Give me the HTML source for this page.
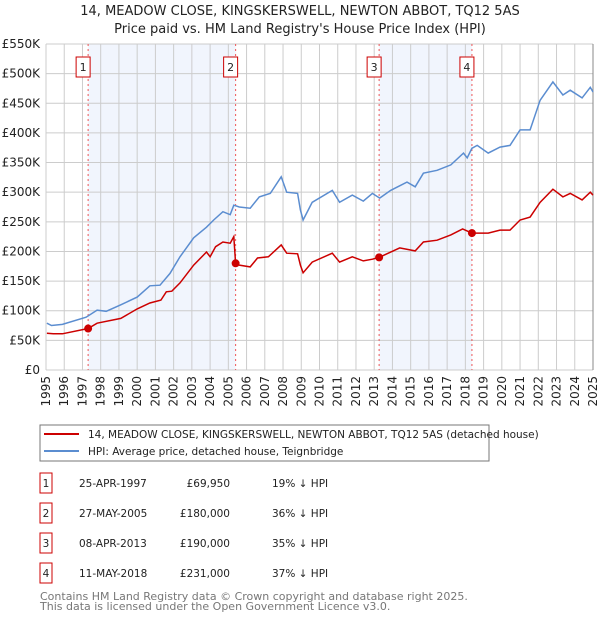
<!DOCTYPE html>
<html><head><meta charset="utf-8"><style>
body{margin:0;background:#fff;font-family:"Liberation Sans","DejaVu Sans",sans-serif;}
svg text{font-family:"DejaVu Sans","Liberation Sans",sans-serif;}
</style></head><body>
<svg id="c" width="600" height="620" viewBox="0 0 600 620" xmlns="http://www.w3.org/2000/svg">
<text x="300" y="15" text-anchor="middle" font-size="13" fill="#222">14, MEADOW CLOSE, KINGSKERSWELL, NEWTON ABBOT, TQ12 5AS</text>
<text x="300" y="33" text-anchor="middle" font-size="13" fill="#222">Price paid vs. HM Land Registry's House Price Index (HPI)</text>
<g id="plot"></g>
<rect x="40" y="425" width="449" height="36" fill="#fff" stroke="#777"/>
<line x1="44" y1="434" x2="79" y2="434" stroke="#cc0000" stroke-width="2"/>
<text x="88" y="438" font-size="10.5" fill="#222">14, MEADOW CLOSE, KINGSKERSWELL, NEWTON ABBOT, TQ12 5AS (detached house)</text>
<line x1="44" y1="451" x2="79" y2="451" stroke="#5b8dd0" stroke-width="2"/>
<text x="88" y="455" font-size="10.5" fill="#222">HPI: Average price, detached house, Teignbridge</text>
<g id="tbl" font-size="10.5" fill="#222"></g>
<text x="40" y="600" font-size="11" fill="#777">Contains HM Land Registry data © Crown copyright and database right 2025.</text>
<text x="40" y="610" font-size="11" fill="#777">This data is licensed under the Open Government Licence v3.0.</text>
</svg>
<script>
const hpiYears=[1995.05,1995.3,1995.9,1997.2,1997.8,1998.3,1999.1,2000.0,2000.7,2001.25,2001.8,2002.35,2003.1,2003.8,2004.2,2004.7,2005.1,2005.3,2005.6,2006.2,2006.7,2007.3,2007.9,2008.2,2008.8,2008.95,2009.1,2009.6,2010.7,2011.1,2011.8,2012.4,2012.9,2013.3,2013.9,2014.8,2015.25,2015.7,2016.45,2017.2,2017.9,2018.1,2018.36,2018.65,2019.25,2019.9,2020.45,2021.0,2021.55,2022.1,2022.8,2023.35,2023.75,2024.4,2024.85,2025.0];
const hpiValues=[79,75,77,89,101,99,110,123,142,143,163,191,223,241,253,267,262,278,275,273,292,298,326,300,298,270,253,283,303,283,295,285,298,290,303,317,309,332,337,346,366,358,374,379,366,376,379,405,405,455,486,464,472,459,477,469];
const ppYears=[1995.05,1995.4,1995.9,1997.31,1997.8,1999.1,2000.0,2000.7,2001.3,2001.6,2001.9,2002.35,2003.1,2003.8,2004.0,2004.3,2004.7,2005.1,2005.3,2005.4,2005.6,2006.2,2006.6,2007.2,2007.9,2008.2,2008.8,2008.95,2009.1,2009.6,2010.7,2011.1,2011.8,2012.4,2012.9,2013.27,2014.4,2015.25,2015.7,2016.45,2017.2,2017.85,2018.36,2019.25,2019.9,2020.45,2021.0,2021.55,2022.1,2022.8,2023.35,2023.75,2024.4,2024.85,2025.0];
const ppValues=[62,61,61,70,79,87,103,113,118,132,133,147,177,199,191,208,216,214,225,180,177,174,189,191,211,197,196,177,164,182,197,182,191,184,187,190,206,201,216,219,228,238,231,231,236,236,253,258,283,305,292,298,287,300,295];
const saleLabels=["1","2","3","4"];
const saleYears=[1997.31,2005.40,2013.27,2018.36];
const saleValues=[69.95,180,190,231];
const saleDates=["25-APR-1997","27-MAY-2005","08-APR-2013","11-MAY-2018"];
const salePrices=["£69,950","£180,000","£190,000","£231,000"];
const saleDiffs=["19% ↓ HPI","36% ↓ HPI","35% ↓ HPI","37% ↓ HPI"];
const yTicks=[0,50,100,150,200,250,300,350,400,450,500,550];
const yTickLabels=["£0","£50K","£100K","£150K","£200K","£250K","£300K","£350K","£400K","£450K","£500K","£550K"];
const xTicks=[1995,1996,1997,1998,1999,2000,2001,2002,2003,2004,2005,2006,2007,2008,2009,2010,2011,2012,2013,2014,2015,2016,2017,2018,2019,2020,2021,2022,2023,2024,2025];

const X0=46,X1=593,Y0=370,Y1=44;
const xs=y=>X0+(y-1995)/30*(X1-X0);
const ys=v=>Y0-v/550*(Y0-Y1);
const NS="http://www.w3.org/2000/svg";
const plot=document.getElementById('plot');
function mk(tag,attrs,parent){const e=document.createElementNS(NS,tag);for(const k in attrs)e.setAttribute(k,attrs[k]);(parent||plot).appendChild(e);return e;}

for(let i=0;i<4;i+=2){
  const r=mk('rect',{x:xs(saleYears[i]),y:Y1,width:xs(saleYears[i+1])-xs(saleYears[i]),height:Y0-Y1,fill:'#eef3fd',opacity:0.8});
  
  
}
xTicks.forEach(t=>{
  const l=mk('line',{x1:xs(t),x2:xs(t),y1:Y1,y2:Y0,stroke:'#cccccc','stroke-width':1});
  
  
  const x=xs(t)+4, y=Y0+6;
  const tx=mk('text',{x:x,y:y,'text-anchor':'end','font-size':12,fill:'#222',transform:'rotate(-90 '+x+' '+y+')'});
  tx.textContent=t;
  
  
});
yTicks.forEach((t,i)=>{
  const l=mk('line',{x1:X0,x2:X1,y1:ys(t),y2:ys(t),stroke:'#cccccc','stroke-width':1});
  
  
  const tx=mk('text',{x:40,y:ys(t)+4,'text-anchor':'end','font-size':12,fill:'#222'});
  tx.textContent=yTickLabels[i];
  
  
});
const fr=mk('line',{x1:X1,x2:X1,y1:Y1,y2:Y0,stroke:'#888','stroke-width':1});



saleYears.forEach((y,i)=>{
  const l=mk('line',{x1:xs(y),x2:xs(y),y1:Y1,y2:Y0,stroke:'#ee5555','stroke-width':1,'stroke-dasharray':'2,3'});
  
  
  const bx=xs(y)-12;
  const b=mk('rect',{x:bx,y:57,width:14,height:20,fill:'#fff',stroke:'#cc0000'});
  
  
  const t=mk('text',{x:bx+7,y:71,'text-anchor':'middle','font-size':11,fill:'#222'});
  t.textContent=saleLabels[i];
  
  
});

const path=(xa,va)=>xa.map((y,i)=>(i?'L':'M')+xs(y).toFixed(1)+','+ys(va[i]).toFixed(1)).join('');
const hp=mk('path',{d:path(hpiYears,hpiValues),fill:'none',stroke:'#5b8dd0','stroke-width':1.5});


const pp=mk('path',{d:path(ppYears,ppValues),fill:'none',stroke:'#cc0000','stroke-width':1.5});


saleYears.forEach((y,i)=>{
  const c=mk('circle',{cx:xs(y),cy:ys(saleValues[i]),r:4,fill:'#cc0000'});
  
  
});

const tbl=document.getElementById('tbl');
saleLabels.forEach((s,i)=>{
  const cy=483+i*30;
  const r=mk('rect',{x:40,y:cy-10,width:12,height:20,fill:'#fff',stroke:'#cc0000'},tbl);
  
  
  const vals=[[46,s,'middle'],[79,saleDates[i],'start'],[230,salePrices[i],'end'],[272,saleDiffs[i],'start']];
  vals.forEach(v=>{
    const t=mk('text',{x:v[0],y:cy+4,'text-anchor':v[2]},tbl);
    t.textContent=v[1];
    
    
  });
});
</script>
</body></html>
